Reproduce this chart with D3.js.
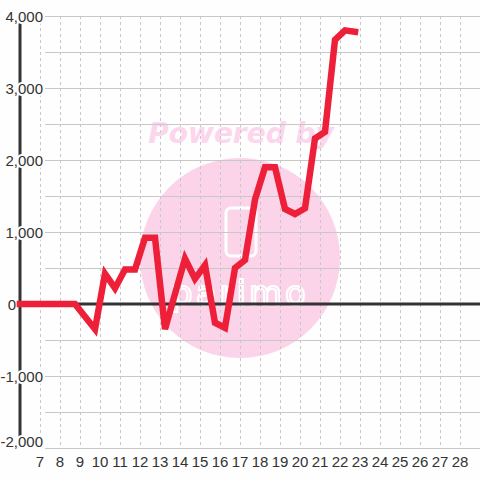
<!DOCTYPE html>
<html lang="en">
<head>
<meta charset="UTF-8">
<script src="https://cdn.jsdelivr.net/npm/d3@7/dist/d3.min.js"></script>
<style>
    body{ margin:0; background:#fdfefd; }
    svg{ display:block; }
    .tick{ font-family:"Liberation Sans",Arial,sans-serif; font-size:15px; fill:#333; }
</style>
<title>chart</title>
</head>
<body>
<svg></svg>
<script>
    // data: day of month -> value
    var days   = [6, 8.75, 9.75, 10.25, 10.75, 11.25, 11.75, 12.25, 12.75, 13.25, 14.25, 14.75, 15.25, 15.75, 16.25, 16.75, 17.25, 17.75, 18.25, 18.75, 19.25, 19.75, 20.25, 20.75, 21.25, 21.75, 22.25, 22.75];
    var values = [0, 0, -350, 420, 220, 480, 480, 920, 920, -350, 630, 350, 540, -260, -330, 500, 610, 1450, 1900, 1900, 1320, 1250, 1330, 2300, 2390, 3670, 3800, 3780];
    var xTicks = [7, 8, 9, 10, 11, 12, 13, 14, 15, 16, 17, 18, 19, 20, 21, 22, 23, 24, 25, 26, 27, 28];
    var yTicks = [-2000, -1000, 0, 1000, 2000, 3000, 4000];
    var yGrid  = [-2000, -1500, -1000, -500, 0, 500, 1000, 1500, 2000, 2500, 3000, 3500, 4000];

    var width = 480, height = 480;
    var bg = "#fdfefd";
    var svg = d3.select("svg").attr("width", width).attr("height", height);

    var x = d3.scaleLinear().domain([6, 29]).range([20, 480]);
    var y = d3.scaleLinear().domain([-2000, 4000]).range([448, 16]);

    // watermark
    var wm = svg.append("g");
    wm.append("circle").attr("cx", 240).attr("cy", 258).attr("r", 100).attr("fill", "#fbd4ea");
    wm.append("rect").attr("x", 226).attr("y", 208).attr("width", 30).attr("height", 48).attr("rx", 5)
        .attr("fill", "none").attr("stroke", "#fff").attr("stroke-width", 3);
    wm.append("text").attr("x", 240).attr("y", 305).attr("text-anchor", "middle")
        .attr("font-family", "DejaVu Sans").attr("font-size", 34).attr("letter-spacing", 3)
        .attr("fill", "none").attr("stroke", "#fff").attr("stroke-width", 2)
        .text("parimo");
    wm.append("text").attr("x", 241).attr("y", 143).attr("text-anchor", "middle")
        .attr("font-family", "DejaVu Sans").attr("font-weight", "bold").attr("font-style", "italic")
        .attr("font-size", 28).attr("fill", "#fcd6ec")
        .text("Powered by");

    // grid
    svg.append("g").attr("shape-rendering", "crispEdges")
        .selectAll("line").data(yGrid).enter().append("line")
        .attr("x1", 45).attr("x2", width)
        .attr("y1", function(d){ return y(d) + 0.5; }).attr("y2", function(d){ return y(d) + 0.5; })
        .attr("stroke", "#c8c8c8").attr("stroke-width", 1);
    svg.append("g").attr("shape-rendering", "crispEdges")
        .selectAll("line").data(xTicks).enter().append("line")
        .attr("x1", function(d){ return x(d) + 0.5; }).attr("x2", function(d){ return x(d) + 0.5; })
        .attr("y1", y(4000)).attr("y2", y(-2000))
        .attr("stroke", "#c8c8c8").attr("stroke-width", 1).attr("stroke-dasharray", "3,3");

    // zero line + y axis line
    svg.append("line").attr("x1", x(6)).attr("x2", width).attr("y1", y(0)).attr("y2", y(0))
        .attr("stroke", "#333").attr("stroke-width", 3);
    svg.append("line").attr("x1", x(6)).attr("x2", x(6)).attr("y1", y(4000)).attr("y2", y(-2000))
        .attr("stroke", "#333").attr("stroke-width", 3);

    // labels
    var fmt = function(v){ return d3.format(",")(v).replace("\u2212", "-"); };
    svg.append("g").selectAll("text").data(yTicks).enter().append("text")
        .attr("class", "tick")
        .attr("x", function(d){ return d === 0 ? 16 : 43; })
        .attr("y", function(d){ return Math.min(y(d) + 5.5, 447); })
        .attr("text-anchor", "end")
        .attr("stroke", bg).attr("stroke-width", 4).attr("paint-order", "stroke")
        .text(fmt);
    svg.append("g").selectAll("text").data(xTicks).enter().append("text")
        .attr("class", "tick")
        .attr("x", function(d){ return x(d); }).attr("y", 467)
        .attr("text-anchor", "middle")
        .text(function(d){ return d; });

    // series
    var pts = days.map(function(d, i){ return [d, values[i]]; });
    var line = d3.line().x(function(d){ return x(d[0]); }).y(function(d){ return y(d[1]); });
    svg.append("path").datum(pts).attr("d", line)
        .attr("fill", "none").attr("stroke", "#ee1f38").attr("stroke-width", 6.5)
        .attr("stroke-linecap", "square");
</script>
</body>
</html>
